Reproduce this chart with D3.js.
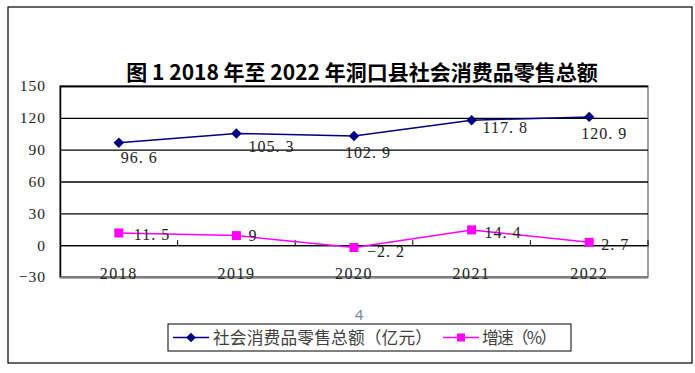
<!DOCTYPE html>
<html>
<head>
<meta charset="utf-8">
<script src="https://cdn.jsdelivr.net/npm/d3@7"></script>
<style>
  body { margin: 0; background: #fff; }
  svg { display: block; }
  .serif { font-family: "Liberation Serif", "Times New Roman", serif; }
</style>
</head>
<body>
<div id="chart"></div>
<script>
// data
const years = ["2018", "2019", "2020", "2021", "2022"];
const retailTotal = [96.6, 105.3, 102.9, 117.8, 120.9];
const growthRate = [11.5, 9, -2.2, 14.4, 2.7];
const yTicks = [-30, 0, 30, 60, 90, 120, 150];
const seriesNames = ["社会消费品零售总额（亿元）", "增速（%）"];

// label nudges (as placed in the original)
const totalOffsets = [[2, 15], [12, 13], [-9, 16], [11, 7], [-8, 17]];
const growthOffsets = [[15, 1], [12, 0], [13, 4], [13, 3], [12, 2]];

const width = 695, height = 373;
const margin = {left: 60, right: 47, top: 86, bottom: 96};

const svg = d3.select("#chart").append("svg")
    .attr("width", width).attr("height", height);

// outer frame
svg.append("rect")
    .attr("x", 8).attr("y", 7).attr("width", 684).attr("height", 356)
    .attr("fill", "none").attr("stroke", "#000").attr("stroke-width", 1.2);

svg.append("text")
    .attr("x", 362).attr("y", 80)
    .attr("text-anchor", "middle")
    .attr("font-family", "'Noto Sans CJK SC', sans-serif")
    .attr("font-weight", "bold")
    .attr("font-size", 21)
    .text("图 1 2018 年至 2022 年洞口县社会消费品零售总额");

const x = d3.scaleBand().domain(years).range([margin.left, width - margin.right]);
const y = d3.scaleLinear().domain([-30, 150]).range([277, 86]);
const cx = d => x(d) + x.bandwidth() / 2;

// plot border
svg.append("rect")
    .attr("x", x.range()[0]).attr("y", y(150))
    .attr("width", x.range()[1] - x.range()[0]).attr("height", y(-30) - y(150))
    .attr("fill", "none").attr("stroke", "#808080").attr("stroke-width", 1.5);

// y axis + grid
const yAxis = svg.append("g")
    .attr("transform", `translate(${margin.left},0)`)
    .call(d3.axisLeft(y).tickValues(yTicks).tickSize(-(x.range()[1] - x.range()[0])).tickPadding(14));
yAxis.select(".domain").attr("stroke", "#000").attr("stroke-width", 1.5);
yAxis.selectAll(".tick line").attr("stroke", d => d === -30 ? "#808080" : "#000").attr("stroke-width", 1.3);
yAxis.selectAll(".tick text")
    .attr("class", "serif")
    .attr("font-size", 15.5)
    .attr("letter-spacing", 1)
    .attr("fill", "#222");

// x axis at zero
const xAxis = svg.append("g")
    .attr("transform", `translate(0,${y(0)})`)
    .call(d3.axisBottom(x).tickSize(0).tickPadding(22));
xAxis.select(".domain").attr("stroke", "#000").attr("stroke-width", 1.3);
xAxis.selectAll(".tick text")
    .attr("class", "serif")
    .attr("font-size", 16)
    .attr("letter-spacing", 1.5)
    .attr("fill", "#222");

// boundary tick marks
const bounds = years.slice(1).map(d => x(d)).concat([x.range()[1]]);
svg.append("g").selectAll("line")
    .data(bounds)
    .join("line")
    .attr("x1", d => d).attr("x2", d => d)
    .attr("y1", y(0)).attr("y2", y(0) - 5)
    .attr("stroke", "#000").attr("stroke-width", 1);

const fmt = v => d3.format("")(v).replace(".", ". ");

const line = d3.line().x((d, i) => cx(years[i])).y(d => y(d));

// series 1: total
svg.append("path")
    .datum(retailTotal)
    .attr("d", line)
    .attr("fill", "none").attr("stroke", "#000080").attr("stroke-width", 1.5);
svg.append("g").selectAll("path")
    .data(retailTotal)
    .join("path")
    .attr("d", d3.symbol(d3.symbolDiamond2, 70))
    .attr("transform", (d, i) => `translate(${cx(years[i])},${y(d)})`)
    .attr("fill", "#000080");

// series 2: growth
svg.append("path")
    .datum(growthRate)
    .attr("d", line)
    .attr("fill", "none").attr("stroke", "#ff00ff").attr("stroke-width", 1.5);
svg.append("g").selectAll("rect")
    .data(growthRate)
    .join("rect")
    .attr("x", (d, i) => cx(years[i]) - 4.5)
    .attr("y", d => y(d) - 4.5)
    .attr("width", 9).attr("height", 9)
    .attr("fill", "#ff00ff");

// data labels
function addLabels(values, offsets) {
    svg.append("g").selectAll("text")
        .data(values)
        .join("text")
        .attr("class", "serif")
        .attr("x", (d, i) => cx(years[i]) + offsets[i][0])
        .attr("y", (d, i) => y(d) + offsets[i][1])
        .attr("dy", "0.35em")
        .attr("font-size", 16)
        .attr("letter-spacing", 1)
        .attr("fill", "#222")
        .text(d => fmt(d));
}
addLabels(retailTotal, totalOffsets);
addLabels(growthRate, growthOffsets);

// stray page number
svg.append("text")
    .attr("x", 359).attr("y", 320)
    .attr("text-anchor", "middle")
    .attr("font-family", "'Noto Sans', sans-serif")
    .attr("font-size", 15)
    .attr("fill", "#7a8aa3")
    .text("4");

// legend
const legend = svg.append("g");
legend.append("rect")
    .attr("x", 168).attr("y", 324).attr("width", 403).attr("height", 27)
    .attr("fill", "#fff").attr("stroke", "#000").attr("stroke-width", 1);

const legendItems = [
    {name: seriesNames[0], color: "#000080", x0: 173, shape: "diamond", tx: 213, tw: 219},
    {name: seriesNames[1], color: "#ff00ff", x0: 443, shape: "square", tx: 482, tw: 75}
];
const ly = 337.5;
legendItems.forEach(it => {
    legend.append("line")
        .attr("x1", it.x0).attr("x2", it.x0 + 36)
        .attr("y1", ly).attr("y2", ly)
        .attr("stroke", it.color).attr("stroke-width", 1.5);
    if (it.shape === "diamond") {
        legend.append("path")
            .attr("d", d3.symbol(d3.symbolDiamond2, 60))
            .attr("transform", `translate(${it.x0 + 18},${ly})`)
            .attr("fill", it.color);
    } else {
        legend.append("rect")
            .attr("x", it.x0 + 18 - 4).attr("y", ly - 4)
            .attr("width", 8).attr("height", 8)
            .attr("fill", it.color);
    }
    legend.append("text")
        .attr("x", it.tx).attr("y", ly)
        .attr("dy", "0.36em")
        .attr("font-family", "'Noto Sans CJK SC', sans-serif")
        .attr("font-size", 16.7)
        .attr("textLength", it.tw)
        .attr("lengthAdjust", "spacing")
        .attr("fill", "#404040")
        .text(it.name);
});
</script>
</body>
</html>
